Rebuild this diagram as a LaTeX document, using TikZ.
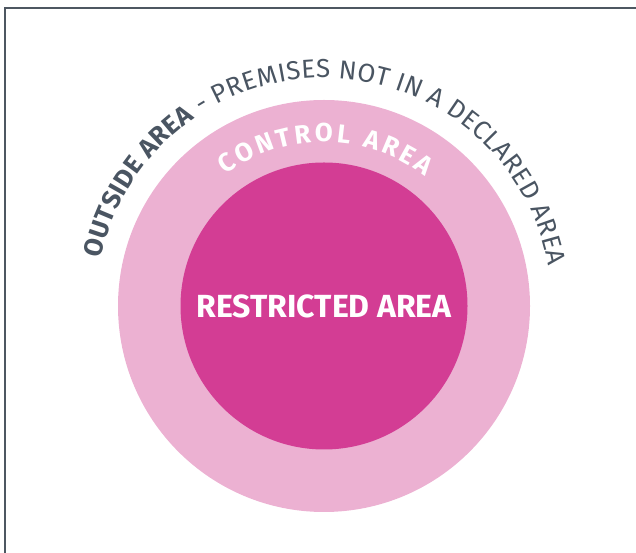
\documentclass[tikz,border=0pt]{standalone}
\usepackage{fontspec}
\setmainfont{Fira Sans}
\usetikzlibrary{decorations.text}
\definecolor{frameslate}{HTML}{4D5761}
\definecolor{labelslate}{HTML}{4A5562}
\definecolor{controlpink}{HTML}{ECB1D2}
\definecolor{restrictmagenta}{HTML}{D33D94}
\newcommand{\outerfont}{\fontsize{26}{26}\selectfont}
\newcommand{\controlfont}{\fontsize{26}{26}\selectfont\bfseries}

\begin{document}
\begin{tikzpicture}[x=1pt, y=1pt]
  % Page frame
  \useasboundingbox (0,0) rectangle (636,553);
  \draw[frameslate, line width=2.5pt] (5,0) -- (5,545) -- (636,545);

  % Centre of the area rings
  \coordinate (centre) at (324,247);

  % Control area ring and restricted area disc
  \fill[controlpink] (centre) circle[radius=206pt];
  \fill[restrictmagenta] (centre) circle[radius=143.5pt];

  % Label of the restricted area
  \node[white, font=\fontsize{32}{32}\selectfont\bfseries] (restricted) at (centre) {RESTRICTED AREA};

  % Label of the control area, along the ring
  \path[decorate, decoration={text along path, text color=white, text align=fit to path,
      text={|\controlfont|CONTROL AREA}}]
    (centre) ++(127:164pt) arc[start angle=127, end angle=52, radius=164pt];

  % Label of the outside area, round the outer ring
  \path[decorate, decoration={text along path, text color=labelslate, text align=fit to path,
      text={|\outerfont\bfseries|OUTSIDE AREA|\outerfont\mdseries| - PREMISES NOT IN A DECLARED AREA}}]
    (centre) ++(168:228pt) arc[start angle=168, end angle=10, radius=228pt];
\end{tikzpicture}
\end{document}
